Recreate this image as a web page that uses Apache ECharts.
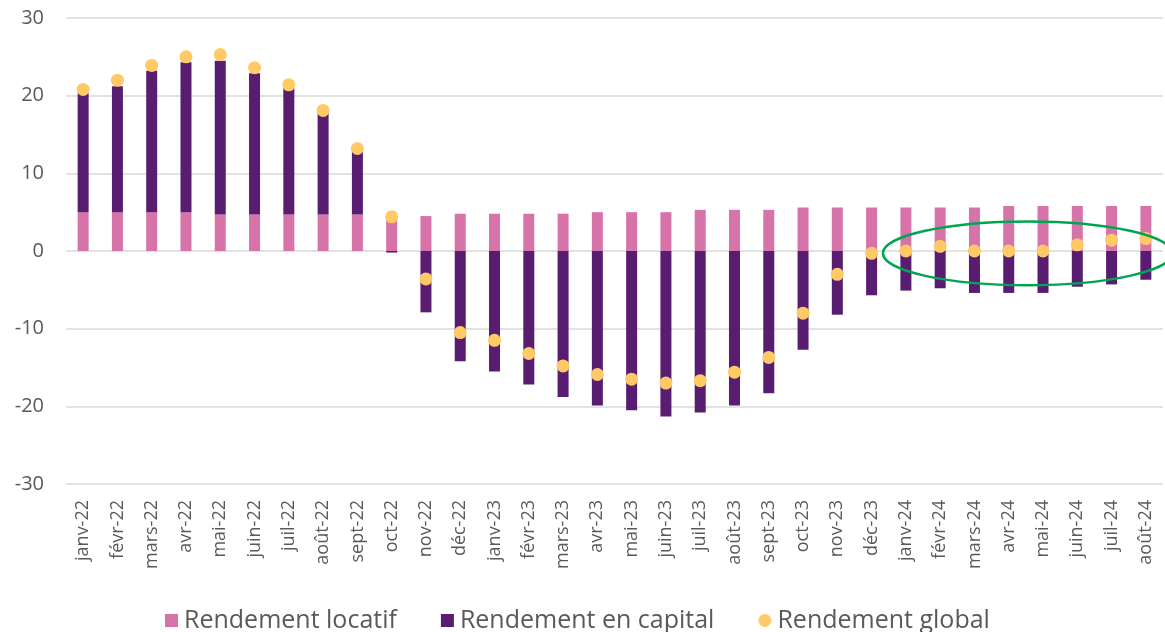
<!DOCTYPE html>
<html>
<head>
<meta charset="utf-8">
<script src="https://cdn.jsdelivr.net/npm/echarts@6/dist/echarts.min.js"></script>
<style>
html,body{margin:0;padding:0;background:#fff;}
#chart{width:1165px;height:632px;}
</style>
</head>
<body>
<div id="chart"></div>
<script>
var months = ['janv-22','févr-22','mars-22','avr-22','mai-22','juin-22','juil-22','août-22','sept-22','oct-22','nov-22','déc-22',
	'janv-23','févr-23','mars-23','avr-23','mai-23','juin-23','juil-23','août-23','sept-23','oct-23','nov-23','déc-23',
	'janv-24','févr-24','mars-24','avr-24','mai-24','juin-24','juil-24','août-24'];
// rendement locatif
var locatif = [5.0,5.0,5.0,5.0,4.7,4.7,4.7,4.7,4.7,4.0,4.5,4.8,
	4.8,4.8,4.8,5.0,5.0,5.0,5.3,5.3,5.3,5.6,5.6,5.6,
	5.6,5.6,5.6,5.8,5.8,5.8,5.8,5.8];
// rendement en capital
var capital = [15.3,16.2,18.2,19.3,19.8,18.2,16.3,13.0,8.2,-0.2,-7.9,-14.2,
	-15.5,-17.2,-18.8,-19.9,-20.5,-21.3,-20.8,-19.9,-18.3,-12.7,-8.2,-5.7,
	-5.1,-4.8,-5.4,-5.4,-5.4,-4.6,-4.3,-3.7];
// rendement global
var global = [20.8,22.0,23.9,25.0,25.3,23.6,21.4,18.1,13.2,4.4,-3.6,-10.5,
	-11.5,-13.2,-14.8,-15.9,-16.5,-17.0,-16.7,-15.6,-13.7,-8.0,-3.0,-0.3,
	0.0,0.6,0.0,0.0,0.0,0.8,1.4,1.6];
var yTicks = {min: -30, max: 30, interval: 10};
// annotation ellipse (category index / value units)
var ring = {cx: 27.55, cy: -0.3, rxCat: 4.22, ryVal: 4.1};

var txt = '#595959';
var chart = echarts.init(document.getElementById('chart'));
var option = {
	animation: false,
	textStyle: {fontFamily: 'Open Sans'},
	grid: {left: 66, right: 2, top: 18, bottom: 148},
	legend: {
		top: 603,
		left: 160,
		itemWidth: 13,
		itemHeight: 13,
		itemGap: 44,
		textStyle: {fontSize: 25, color: txt, fontFamily: 'Open Sans', padding: [0, 0, 0, 1]},
		data: [
			{name: 'Rendement locatif', icon: 'rect'},
			{name: 'Rendement en capital', icon: 'rect'},
			{name: 'Rendement global', icon: 'circle'}
		]
	},
	xAxis: {
		type: 'category',
		data: months,
		axisLine: {show: false, onZero: false},
		axisTick: {show: false},
		axisLabel: {rotate: 90, fontSize: 18, color: txt, margin: 16, interval: 0}
	},
	yAxis: {
		type: 'value',
		min: yTicks.min,
		max: yTicks.max,
		interval: yTicks.interval,
		axisLine: {show: false},
		axisTick: {show: false},
		axisLabel: {fontSize: 20, color: txt, margin: 22},
		splitLine: {lineStyle: {color: '#d9d9d9', width: 1.5}}
	},
	series: [
		{
			name: 'Rendement locatif',
			type: 'bar',
			stack: 'r',
			barWidth: 11,
			itemStyle: {color: '#d674aa'},
			data: locatif
		},
		{
			name: 'Rendement en capital',
			type: 'bar',
			stack: 'r',
			barWidth: 11,
			itemStyle: {color: '#581d70'},
			data: capital
		},
		{
			name: 'Rendement global',
			type: 'scatter',
			symbolSize: 13,
			itemStyle: {color: '#ffc966', opacity: 1},
			z: 5,
			data: global
		}
	]
};
chart.setOption(option);

// ellipse placed through the axes
var c = chart.convertToPixel({gridIndex: 0}, [Math.floor(ring.cx), ring.cy]);
var c2 = chart.convertToPixel({gridIndex: 0}, [Math.floor(ring.cx) + 1, ring.cy + ring.ryVal]);
var step = c2[0] - c[0];
chart.setOption({
	graphic: [{
		type: 'ellipse',
		shape: {
			cx: c[0] + step * (ring.cx - Math.floor(ring.cx)),
			cy: c[1],
			rx: step * ring.rxCat,
			ry: c[1] - c2[1]
		},
		style: {fill: 'none', stroke: '#00a550', lineWidth: 2.5},
		z: 10
	}]
});
</script>
</body>
</html>
